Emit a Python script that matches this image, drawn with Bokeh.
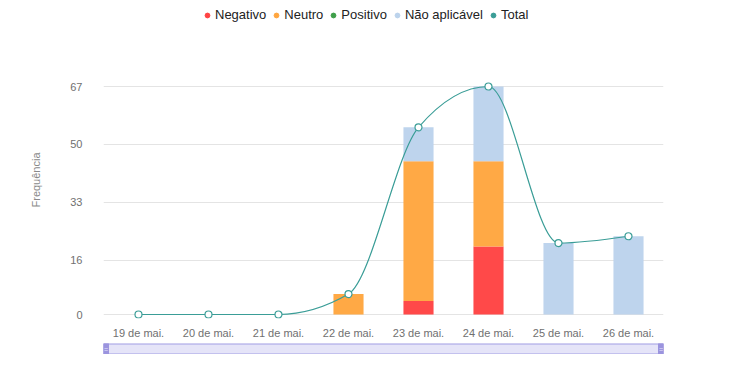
import numpy as np
from bokeh.plotting import figure
from bokeh.layouts import column
from bokeh.models import (Range1d, FixedTicker, Legend, LegendItem, Title,
                          ColumnDataSource)
from bokeh.core.properties import value
from bokeh.embed import file_html
from bokeh.resources import INLINE

# ---------------- data ----------------
categories = ["19 de mai.", "20 de mai.", "21 de mai.", "22 de mai.",
              "23 de mai.", "24 de mai.", "25 de mai.", "26 de mai."]
negativo = [0, 0, 0, 0, 4, 20, 0, 0]
neutro = [0, 0, 0, 6, 41, 25, 0, 0]
positivo = [0, 0, 0, 0, 0, 0, 0, 0]
nao_aplicavel = [0, 0, 0, 0, 10, 22, 21, 23]
y_ticks = [0, 16, 33, 50, 67]
series_names = ["Negativo", "Neutro", "Positivo", "Não aplicável", "Total"]

total = [a + b + c + d for a, b, c, d in zip(negativo, neutro, positivo, nao_aplicavel)]

FONT = "Liberation Sans"
COL_NEG = "#ff4343"
COL_NEU = "#ffa63f"
COL_POS = "#3f9f4a"
COL_NA = "#bcd3ec"
COL_TOT = "#3a9d97"
LABEL_COL = "#707070"

# layout geometry (pixels)
PLOT_H = 228            # pixels between value 0 and top tick
TOP_PAD = 86            # pixels above top tick inside frame (room for legend)
BOT_PAD = 4             # pixels below zero inside frame
upp = max(y_ticks) / PLOT_H   # data units per pixel
y_start = -BOT_PAD * upp
y_end = max(y_ticks) + TOP_PAD * upp

xs = list(range(len(categories)))

p = figure(width=724, height=342, output_backend="svg", toolbar_location=None,
           x_range=Range1d(-0.5, len(categories) - 0.5), y_range=Range1d(y_start, y_end),
           min_border_left=103, min_border_right=61, min_border_top=0, min_border_bottom=24)
p.outline_line_color = None
p.background_fill_color = "white"
p.xgrid.grid_line_color = None
p.ygrid.grid_line_color = "#e4e4e4"
p.ygrid.ticker = FixedTicker(ticks=y_ticks)

# axes
p.yaxis.ticker = FixedTicker(ticks=y_ticks)
p.yaxis.axis_line_color = None
p.yaxis.major_tick_line_color = None
p.yaxis.minor_tick_line_color = None
p.yaxis.major_tick_out = 0
p.yaxis.major_tick_in = 0
p.yaxis.major_label_standoff = 21
p.yaxis.major_label_text_font = FONT
p.yaxis.major_label_text_font_size = "11px"
p.yaxis.major_label_text_color = LABEL_COL

p.xaxis.ticker = FixedTicker(ticks=xs)
p.xaxis.major_label_overrides = {i: c for i, c in enumerate(categories)}
p.xaxis.axis_line_color = None
p.xaxis.major_tick_line_color = None
p.xaxis.minor_tick_line_color = None
p.xaxis.major_tick_out = 0
p.xaxis.major_tick_in = 0
p.xaxis.major_label_standoff = 8
p.xaxis.major_label_text_font = FONT
p.xaxis.major_label_text_font_size = "11px"
p.xaxis.major_label_text_color = LABEL_COL

# stacked bars
src = ColumnDataSource(dict(x=xs, neg=negativo, neu=neutro, pos=positivo, na=nao_aplicavel))
p.vbar_stack(["neg", "neu", "pos", "na"], x="x", width=0.43, source=src,
             fill_color=[COL_NEG, COL_NEU, COL_POS, COL_NA],
             line_color=None, fill_alpha=0.97)

# monotone-x smooth line through totals (d3 curveMonotoneX style)
def monotone_slopes(x, y):
    n = len(x)
    t = [0.0] * n
    for i in range(1, n - 1):
        h0 = x[i] - x[i - 1]
        h1 = x[i + 1] - x[i]
        s0 = (y[i] - y[i - 1]) / h0
        s1 = (y[i + 1] - y[i]) / h1
        pp = (s0 * h1 + s1 * h0) / (h0 + h1)
        t[i] = (np.sign(s0) + np.sign(s1)) * min(abs(s0), abs(s1), 0.5 * abs(pp))
    t[0] = (3 * (y[1] - y[0]) / (x[1] - x[0]) - t[1]) / 2
    t[-1] = (3 * (y[-1] - y[-2]) / (x[-1] - x[-2]) - t[-2]) / 2
    return t

tt = monotone_slopes(xs, total)
bx0, by0, bx1, by1, c0x, c0y, c1x, c1y = [], [], [], [], [], [], [], []
for i in range(len(xs) - 1):
    dx = (xs[i + 1] - xs[i]) / 3
    bx0.append(xs[i]); by0.append(total[i])
    bx1.append(xs[i + 1]); by1.append(total[i + 1])
    c0x.append(xs[i] + dx); c0y.append(total[i] + dx * tt[i])
    c1x.append(xs[i + 1] - dx); c1y.append(total[i + 1] - dx * tt[i + 1])
p.bezier(x0=bx0, y0=by0, x1=bx1, y1=by1, cx0=c0x, cy0=c0y, cx1=c1x, cy1=c1y,
         line_color=COL_TOT, line_width=1.2)
p.scatter(xs, total, size=7, fill_color="white", line_color=COL_TOT, line_width=1.2)

# legend (dot markers)
legend_colors = [COL_NEG, COL_NEU, COL_POS, COL_NA, COL_TOT]
items = []
for name, col in zip(series_names, legend_colors):
    r = p.scatter(x=[np.nan], y=[np.nan], size=5, fill_color=col, line_color=col)
    items.append(LegendItem(label=name, renderers=[r]))
legend = Legend(items=items, orientation="horizontal",
                location=(98, PLOT_H + TOP_PAD + BOT_PAD - 22),
                padding=0, margin=0, spacing=4, label_standoff=2,
                glyph_width=12, glyph_height=12, label_height=14,
                border_line_color=None, background_fill_alpha=0,
                label_text_font=FONT, label_text_font_size="13px",
                label_text_color="#222222")
p.add_layout(legend)

# y-axis title
p.add_layout(Title(text="Frequência", align="left", offset=111, standoff=52,
                   text_font=FONT, text_font_size="11px", text_font_style="normal",
                   text_color="#8a8a8a"), "left")

# data-zoom slider look-alike
s = figure(width=724, height=12, output_backend="svg", toolbar_location=None,
           x_range=Range1d(-0.5, len(categories) - 0.5), y_range=Range1d(0, 1),
           x_axis_type=None, y_axis_type=None,
           min_border_left=103, min_border_right=61, min_border_top=1, min_border_bottom=0)
s.outline_line_color = None
s.xgrid.grid_line_color = None
s.ygrid.grid_line_color = None
lo, hi = -0.5, len(categories) - 0.5
s.quad(left=[lo], right=[hi], bottom=[0.02], top=[0.98],
       fill_color="#e5e4f8", line_color="#a29de3", line_width=1.5)
hw = 5 / 70
s.quad(left=[lo, hi - hw], right=[lo + hw, hi], bottom=[0, 0], top=[1, 1],
       fill_color="#9b94de", line_color="#9b94de")
s.text(x=[lo + hw / 2, hi - hw / 2], y=[0.5, 0.5], text=["=", "="],
       text_align="center", text_baseline="middle", text_font=value(FONT),
       text_font_size="7px", text_color="#e8e6fb")

layout = column(p, s, spacing=0)
open("out.html", "w").write(file_html(layout, INLINE))
